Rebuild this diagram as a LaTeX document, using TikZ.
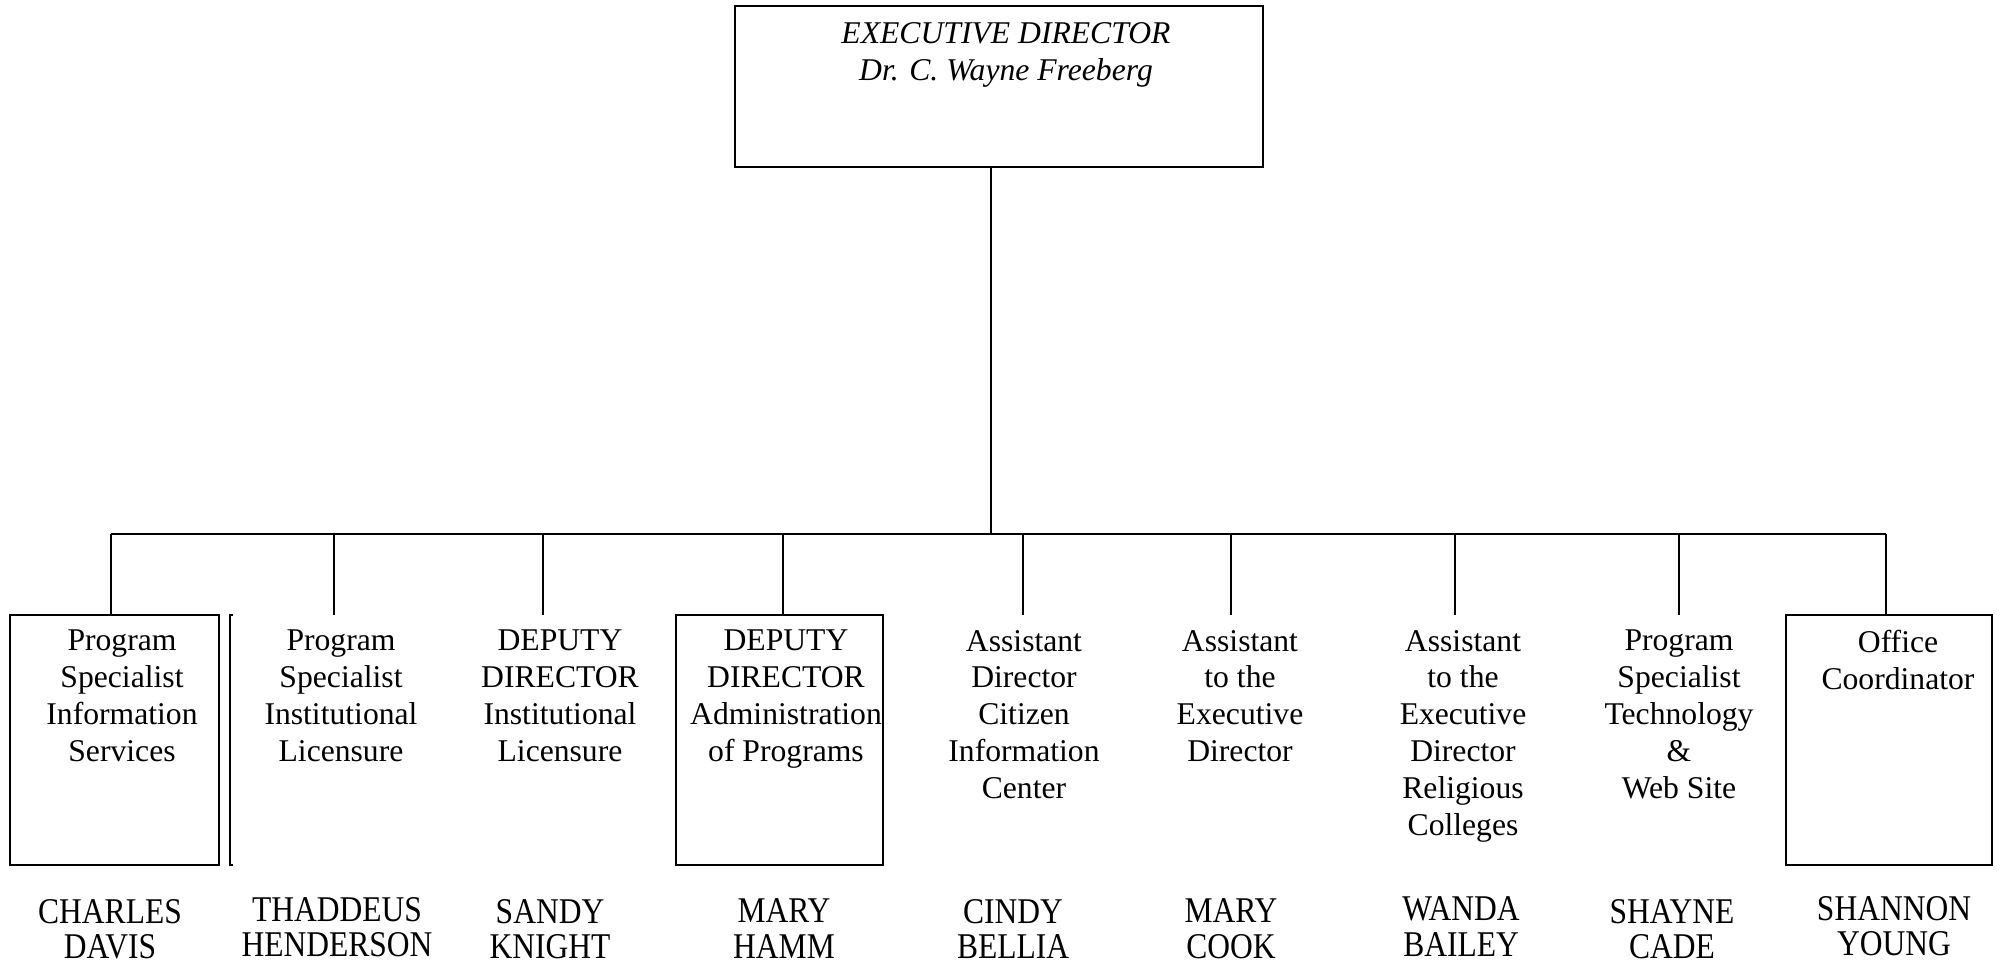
\documentclass[tikz,border=0pt]{standalone}
\usepackage{fontspec}
\setmainfont{Liberation Serif}
\newfontfamily\namefont{Liberation Serif}[FakeStretch=0.87]

\begin{document}
\begin{tikzpicture}[x=0.01cm, y=-0.01cm, line width=0.6pt,
        box/.style={draw, inner sep=0pt, minimum height=2.5cm},
        role/.style={anchor=north, align=center, inner sep=0pt, font=\fontsize{9}{10.5}\selectfont},
        person/.style={anchor=north, align=center, inner sep=0pt, font=\namefont\fontsize{10.3}{10.2}\selectfont}]
        \useasboundingbox (0,0) rectangle (2000,964);

        % executive director
        \node[draw, inner sep=0pt, minimum width=5.28cm, minimum height=1.61cm] (exec) at (999,86.5) {};
        \node[role, font=\fontsize{9}{10.8}\selectfont\itshape] (execlbl) at (1006,21) {EXECUTIVE DIRECTOR\\Dr. C. Wayne Freeberg};

        % framed boxes
        \node[box, minimum width=2.09cm] (box1) at (114.5,740) {};
        \node[box, minimum width=2.07cm] (box4) at (779.5,740) {};
        \node[box, minimum width=2.06cm] (box9) at (1889,740) {};
        \draw (233,615) -- (230,615) -- (230,865) -- (233,865);

        % titles
        \node[role] (r1) at (122,629) {Program\\Specialist\\Information\\Services};
        \node[role] (r2) at (341,629) {Program\\Specialist\\Institutional\\Licensure};
        \node[role] (r3) at (560,629) {DEPUTY\\DIRECTOR\\Institutional\\Licensure};
        \node[role] (r4) at (786,629) {DEPUTY\\DIRECTOR\\Administration\\of Programs};
        \node[role] (r5) at (1024,629) {Assistant\\Director\\Citizen\\Information\\Center};
        \node[role] (r6) at (1240,629) {Assistant\\to the\\Executive\\Director};
        \node[role] (r7) at (1463,629) {Assistant\\to the\\Executive\\Director\\Religious\\Colleges};
        \node[role] (r8) at (1679,629) {Program\\Specialist\\Technology\\\&\\Web Site};
        \node[role] (r9) at (1898,629) {Office\\Coordinator};

        % names
        \node[person] (p1) at (110,898) {CHARLES\\DAVIS};
        \node[person] (p2) at (337,896) {THADDEUS\\HENDERSON};
        \node[person] (p3) at (550,898) {SANDY\\KNIGHT};
        \node[person] (p4) at (784,898) {MARY\\HAMM};
        \node[person] (p5) at (1013,898) {CINDY\\BELLIA};
        \node[person] (p6) at (1231,898) {MARY\\COOK};
        \node[person] (p7) at (1461,896) {WANDA\\BAILEY};
        \node[person] (p8) at (1672,898) {SHAYNE\\CADE};
        \node[person] (p9) at (1894,895) {SHANNON\\YOUNG};

        % connectors
        \coordinate (bus) at (991,534);
        \foreach \x [count=\i] in {111,334,543,783,1023,1231,1455,1679,1886}
            \coordinate (d\i) at (\x,615);
        \draw (exec.south -| bus) -- (bus);
        \draw (d1 |- bus) -- (d9 |- bus);
        \foreach \i in {1,...,9}
            \draw (d\i |- bus) -- (d\i);
\end{tikzpicture}
\end{document}
